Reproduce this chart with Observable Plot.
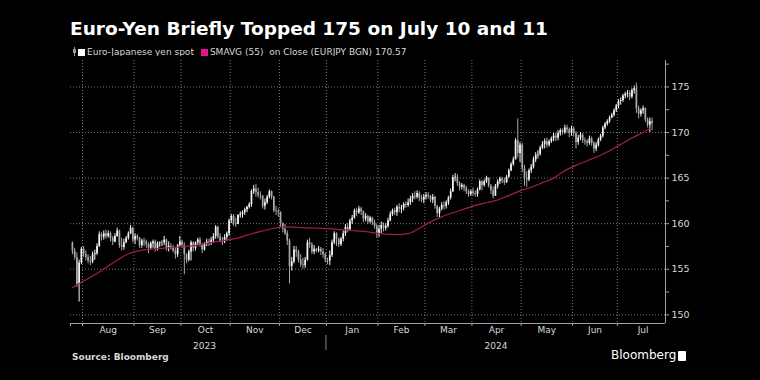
<!DOCTYPE html>
<html>
<head>
<meta charset="utf-8">
<script src="https://cdn.jsdelivr.net/npm/d3@7"></script>
<script src="https://cdn.jsdelivr.net/npm/@observablehq/plot@0.6"></script>
<style>
  html, body { margin: 0; padding: 0; background: #000; }
  #wrap { position: relative; width: 760px; height: 380px; background: #000; overflow: hidden;
          font-family: "DejaVu Sans", sans-serif; }
  #title { position: absolute; left: 70px; top: 18px; font-weight: bold; font-size: 18.5px; color: #fff; white-space: nowrap; line-height: 22px; }
  #legend { position: absolute; left: 72px; top: 46px; font-size: 9px; color: #d8d8d8; white-space: pre; line-height: 12px; height: 12px; display: flex; align-items: center; }
  #legend .sw { display: inline-block; width: 7px; height: 7px; margin-right: 2px; }
  #chart { position: absolute; left: 0; top: 56px; }
  #source { position: absolute; left: 72px; top: 351px; font-weight: bold; font-size: 9px; color: #d8d8d8; line-height: 12px; }
  #logo { position: absolute; left: 611px; top: 348px; font-size: 12px; color: #fff; line-height: 15px; display: flex; align-items: center; }
  #logo .icon { display: inline-block; width: 8px; height: 10px; background: #fff; margin-left: 2px; border-radius: 1px; }
</style>
</head>
<body>
<div id="wrap">
  <div id="title">Euro-Yen Briefly Topped 175 on July 10 and 11</div>
  <div id="legend"><svg width="5" height="10" style="margin-right:1px"><line x1="2.5" y1="0" x2="2.5" y2="10" stroke="#9a9a9a"/><rect x="1" y="2" width="3" height="4" fill="#9a9a9a"/></svg><span class="sw" style="background:#fff"></span><span>Euro-Japanese yen spot</span><span class="sw" style="background:#e0168f;margin-left:7px"></span><span>SMAVG (55)  on Close (EURJPY BGN) 170.57</span></div>
  <div id="chart"></div>
  <div id="source">Source: Bloomberg</div>
  <div id="logo"><span>Bloomberg</span><span class="icon"></span></div>
</div>
<script>
// ---- Data (EURJPY daily, 25 Jul 2023 – 22 Jul 2024) ----
const firstOpen = 157.9;
const close = [
  157.0,156.3,153.3,155.7,157.2,
  156.6,156.3,155.9,155.8,156.6,156.7,157.5,158.8,158.5,158.9,158.6,158.9,158.4,158.0,158.6,159.2,157.6,157.4,157.9,158.4,158.9,159.5,158.2,
  158.6,158.4,157.6,158.1,158.0,157.7,157.3,157.8,158.0,157.2,157.8,157.9,157.9,158.2,157.3,157.5,157.3,157.0,156.6,157.6,158.0,
  157.6,156.6,156.0,156.9,157.9,157.3,157.9,158.2,157.6,157.1,157.8,158.0,157.9,158.2,158.6,159.6,158.5,158.1,158.0,158.5,158.9,160.3,
  160.8,160.0,159.9,160.9,161.0,161.2,161.5,161.8,162.1,163.5,163.8,163.4,163.1,163.0,161.9,162.3,162.9,163.5,162.9,161.4,161.3,161.2,
  160.0,159.4,158.9,158.1,155.3,155.8,157.1,156.9,156.0,155.5,155.4,156.0,157.9,157.7,156.9,157.2,157.0,157.2,156.9,156.6,156.0,
  155.9,156.5,157.9,158.9,158.3,157.7,158.3,158.9,159.6,159.3,160.3,160.6,161.4,161.2,161.6,161.3,160.5,160.8,160.2,160.6,160.1,159.7,158.9,
  159.4,159.8,159.5,159.7,160.3,161.0,161.4,161.2,161.8,161.6,161.7,162.1,162.0,162.3,162.7,163.0,162.9,163.3,162.8,162.6,162.9,
  163.1,163.0,162.6,162.9,161.9,161.1,161.6,162.0,161.9,162.3,162.8,163.5,165.0,165.1,164.4,164.0,164.2,163.9,163.5,163.2,163.5,
  163.3,163.2,163.7,164.6,164.2,164.6,165.0,164.1,163.6,163.0,164.1,164.6,164.9,164.7,164.5,165.1,165.8,166.5,167.0,169.1,167.7,168.6,
  166.0,165.0,164.8,165.8,166.2,167.0,167.5,167.6,168.3,168.7,169.0,168.6,169.0,169.3,169.6,169.4,169.9,170.2,170.0,170.5,170.3,169.9,170.4,
  169.9,168.9,169.4,169.7,169.1,169.0,168.8,169.3,168.8,168.2,168.6,169.2,169.6,170.5,170.9,171.2,171.6,171.9,172.4,172.9,
  173.4,173.5,174.0,174.2,174.3,173.9,174.6,174.8,172.6,172.0,172.4,172.6,171.4,170.8,171.2,171.0
];
const high = [
  158.0,157.3,156.8,156.0,157.4,
  157.5,157.0,156.6,156.4,156.9,157.1,157.8,159.1,159.0,159.2,159.3,159.2,159.1,158.6,158.9,159.5,159.3,158.4,158.3,158.6,159.1,159.8,159.6,
  158.9,158.8,158.5,158.3,158.4,158.2,157.9,158.0,158.2,158.2,158.0,158.0,158.1,158.6,158.3,158.0,157.8,157.6,157.3,157.7,158.6,
  158.2,157.9,156.7,157.1,158.1,158.0,158.0,158.4,158.5,157.8,157.9,158.3,158.3,158.5,158.9,159.8,159.7,158.9,158.5,158.8,159.1,160.5,
  161.0,161.0,160.6,161.0,161.3,161.4,161.7,161.9,162.3,163.7,164.2,164.3,163.9,163.5,163.1,162.7,163.1,163.7,163.6,163.0,161.9,161.6,
  161.3,160.1,159.9,159.2,158.3,156.3,157.5,157.5,157.1,156.6,156.2,156.3,158.2,158.4,157.9,157.6,157.3,157.5,157.4,157.3,156.8,
  156.2,157.0,158.2,159.1,159.0,158.4,158.5,159.2,159.9,160.0,160.5,160.9,161.6,161.7,161.9,161.8,161.4,161.1,160.9,160.8,160.7,160.4,159.9,
  159.8,160.2,160.1,160.0,160.6,161.3,161.6,161.7,162.0,162.2,162.0,162.3,162.4,162.7,163.0,163.3,163.5,163.6,163.5,163.1,163.2,
  163.4,163.4,163.1,163.2,163.0,162.0,161.8,162.3,162.4,162.5,163.0,163.8,165.3,165.5,165.4,164.6,164.4,164.3,164.1,163.7,163.7,
  163.9,163.6,163.9,164.8,164.7,164.8,165.2,165.0,164.3,164.0,164.3,164.8,165.1,165.1,165.0,165.3,166.0,166.7,167.3,169.3,171.5,168.9,
  168.8,166.4,165.7,166.0,166.5,167.3,167.8,168.0,168.5,169.0,169.3,169.4,169.2,169.5,169.9,169.9,170.2,170.4,170.4,170.8,170.8,170.5,170.7,
  170.6,170.1,169.7,170.0,169.9,169.4,169.2,169.6,169.5,169.0,168.9,169.4,169.8,170.7,171.1,171.4,171.8,172.1,172.6,173.1,
  173.6,173.8,174.2,174.4,174.6,174.6,174.8,175.1,175.4,172.9,172.6,172.9,172.7,171.6,171.6,171.6
];
const low = [
  156.6,156.0,153.0,151.4,155.5,
  156.3,155.9,155.6,155.4,155.6,156.0,156.5,157.4,158.1,158.2,158.3,158.4,158.0,157.6,157.9,158.5,157.3,157.0,157.1,157.8,158.2,158.8,157.9,
  157.7,158.1,157.3,157.3,157.5,157.3,156.7,157.1,157.3,156.9,157.0,157.4,157.5,157.6,157.0,156.9,157.1,156.8,156.1,156.3,157.4,
  157.3,154.4,155.6,155.8,155.9,156.9,157.0,157.6,157.4,156.7,157.0,157.5,157.5,157.6,157.9,158.3,158.3,157.9,157.6,157.8,158.1,158.6,
  160.0,159.7,159.6,159.9,160.6,160.6,160.9,161.2,161.6,161.8,163.2,162.9,162.8,162.6,161.6,161.5,162.1,162.7,162.6,161.2,160.9,160.7,
  159.6,159.0,158.7,157.6,153.4,154.8,155.6,156.3,155.7,155.2,155.0,155.1,155.9,157.3,156.6,156.6,156.8,156.8,156.5,156.2,155.7,
  155.5,155.4,156.3,157.7,157.5,157.4,157.5,158.0,158.6,159.0,159.3,159.9,160.5,160.8,161.0,160.9,160.1,160.2,159.9,160.0,159.8,159.4,158.4,
  158.5,158.9,159.1,159.2,159.5,160.2,160.8,160.9,160.8,161.2,161.1,161.4,161.7,161.8,162.0,162.3,162.6,162.7,162.4,162.3,162.2,
  162.6,162.7,162.3,162.2,161.6,160.7,160.6,161.4,161.5,161.6,162.0,162.6,163.4,164.6,164.1,163.6,163.7,163.5,163.2,162.9,163.0,
  163.0,162.9,162.9,163.6,163.6,164.0,164.4,163.9,163.2,162.7,163.0,163.8,164.3,164.4,164.2,164.4,165.0,165.7,166.3,167.0,167.2,166.7,
  165.6,164.1,164.0,164.6,165.5,166.0,166.7,167.1,167.4,168.1,168.2,168.3,168.4,168.8,169.0,169.0,169.1,169.6,169.7,169.8,169.9,169.4,169.6,
  169.5,168.2,168.6,169.1,168.8,168.6,168.4,168.6,168.5,167.7,167.9,168.4,169.0,169.4,170.3,170.7,171.0,171.5,171.7,172.2,
  172.6,173.0,173.3,173.7,173.8,173.5,173.7,174.2,172.1,171.5,171.7,172.0,171.1,170.5,170.0,170.2
];
// 55-day simple moving average, read every 5th trading day, plus the last value
const smaWeekly = [153.0,153.7,154.4,155.2,156.0,156.7,157.05,157.2,157.3,157.4,157.5,157.6,157.85,158.05,158.25,158.5,
  158.9,159.2,159.5,159.65,159.6,159.55,159.5,159.45,159.35,159.25,159.15,159.0,158.85,158.8,158.9,159.5,160.2,160.75,
  161.2,161.6,162.0,162.3,162.6,163.1,163.6,164.0,164.5,165.0,165.8,166.4,166.9,167.4,168.0,168.7,169.4,170.0];
const smaLast = 170.57;
const yTicks = [150, 155, 160, 165, 170, 175];
const yMinorTicks = [152.5, 157.5, 162.5, 167.5, 172.5, 177.5];

// ---- Build trading-day table ----
const days = d3.utcDay.range(new Date(Date.UTC(2023, 6, 25)), new Date(Date.UTC(2024, 6, 23)))
  .filter(d => d.getUTCDay() !== 0 && d.getUTCDay() !== 6);
const rows = close.map((c, i) => ({
  i, date: days[i], close: c, high: high[i], low: low[i],
  open: i === 0 ? firstOpen : close[i - 1]
}));
const upRows = rows.filter(d => d.close >= d.open);
const downRows = rows.filter(d => d.close < d.open);
const smaRows = smaWeekly.map((v, k) => ({i: 5 * k, v})).concat([{i: rows.length - 1, v: smaLast}]);

// month boundaries (between last trading day of a month and first of the next)
const monthStarts = [];
days.forEach((d, i) => { if (i > 0 && d.getUTCMonth() !== days[i - 1].getUTCMonth()) monthStarts.push(i); });
const bounds = monthStarts.map(s => s - 0.5);
const fmt = d3.utcFormat("%b");
const lastMonthStart = days[monthStarts[monthStarts.length - 1]];
const lastMonthLen = d3.utcDay.range(lastMonthStart, d3.utcMonth.offset(lastMonthStart, 1))
  .filter(d => d.getUTCDay() !== 0 && d.getUTCDay() !== 6).length;
const monthLabels = monthStarts.map((s, k) => {
  const a = s - 0.5;
  const b = k + 1 < monthStarts.length ? monthStarts[k + 1] - 0.5 : a + lastMonthLen;
  return {mid: (a + b) / 2, name: fmt(days[s])};
});
const xDomain = [-0.86, 265.0];
const yDomain = [149.05, 177.9];
const janIdx = monthStarts.find(s => days[s].getUTCMonth() === 0);
const yearLabels = [
  {mid: (bounds[0] + (janIdx - 0.5)) / 2, name: "2023"},
  {mid: ((janIdx - 0.5) + xDomain[1]) / 2, name: "2024"}
];

const grid = "#777";
const axisCol = "#a0a0a0";
const textCol = "#d8d8d8";
const chart = Plot.plot({
  width: 760, height: 296,
  marginLeft: 70, marginRight: 95, marginTop: 4, marginBottom: 29,
  x: {type: "linear", domain: xDomain, axis: null},
  y: {domain: yDomain, axis: null},
  style: {background: "#000", color: textCol, fontFamily: "'DejaVu Sans', sans-serif", fontSize: "9px"},
  marks: [
    Plot.ruleY(yTicks, {stroke: grid, strokeDasharray: "1,2"}),
    Plot.ruleX(bounds, {stroke: grid, strokeDasharray: "1,2"}),
    Plot.ruleX(upRows, {x: "i", y1: "low", y2: "high", stroke: "#f4f4f4", strokeWidth: 1}),
    Plot.ruleX(downRows, {x: "i", y1: "low", y2: "high", stroke: "#a8a8a8", strokeWidth: 1}),
    Plot.ruleX(upRows, {x: "i", y1: "open", y2: "close", stroke: "#f4f4f4", strokeWidth: 1.7}),
    Plot.ruleX(downRows, {x: "i", y1: "open", y2: "close", stroke: "#a8a8a8", strokeWidth: 1.7}),
    Plot.line(smaRows, {x: "i", y: "v", stroke: "#a3195f", strokeWidth: 1.2, curve: "monotone-x"}),
    Plot.ruleX([xDomain[1]], {stroke: axisCol}),
    Plot.ruleY([yDomain[0]], {stroke: axisCol}),
    Plot.axisY({ticks: yTicks, anchor: "right", tickSize: 3, tickPadding: 3, stroke: axisCol, fill: textCol, fontSize: 9.5}),
    Plot.axisY({ticks: yMinorTicks, anchor: "right", tickSize: 3, tickFormat: () => "", stroke: axisCol}),
    Plot.axisX({ticks: [xDomain[0], ...bounds], anchor: "bottom", tickSize: 3, tickFormat: () => "", stroke: axisCol}),
    Plot.text(monthLabels, {x: "mid", text: "name", frameAnchor: "bottom", dy: 9.5, fill: textCol}),
    Plot.text(yearLabels, {x: "mid", text: "name", frameAnchor: "bottom", dy: 25, fill: textCol})
  ]
});
// separator between years under the axis
const sx = chart.scale("x");
d3.select(chart).append("line")
  .attr("x1", sx.apply(janIdx - 0.5)).attr("x2", sx.apply(janIdx - 0.5))
  .attr("y1", 279).attr("y2", 294).attr("stroke", "#888");
document.getElementById("chart").appendChild(chart);
</script>
</body>
</html>
